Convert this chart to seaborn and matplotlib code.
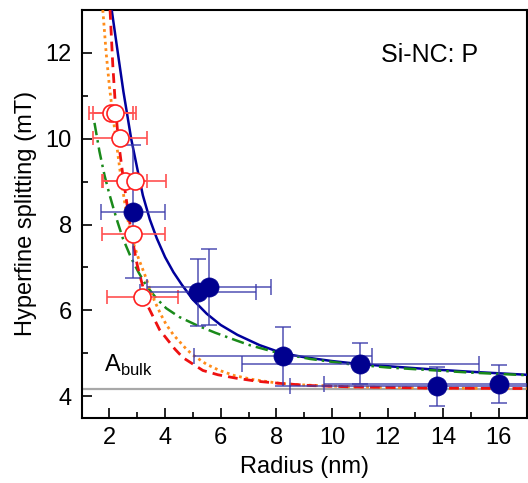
import numpy as np
import pandas as pd
import matplotlib
matplotlib.use("Agg")
import matplotlib.pyplot as plt
import seaborn as sns

# ---- data ----
A_bulk = 4.17

# open red circles (radius nm, splitting mT, x-error)
red_r = [2.06, 2.18, 2.38, 2.54, 2.90, 2.86, 3.18]
red_a = [10.60, 10.60, 10.02, 9.01, 9.01, 7.77, 6.32]
red_xerr = [0.80, 0.76, 0.98, 0.80, 1.14, 1.14, 1.27]

# filled blue circles
blue_r = [2.84, 5.18, 5.57, 8.23, 11.02, 13.79, 16.00]
blue_a = [8.30, 6.42, 6.55, 4.93, 4.76, 4.23, 4.29]
blue_xerr = [1.15, 2.10, 2.23, 3.20, 4.26, 5.30, 6.27]
blue_yerr = [1.55, 0.78, 0.88, 0.68, 0.47, 0.46, 0.44]

# model curves, points
blue_curve_r = [2.08, 2.30, 2.50, 2.78, 3.00, 3.20, 3.45, 3.70, 4.00, 4.30,
                4.60, 5.00, 5.50, 6.00, 6.60, 7.40, 8.23, 9.00, 10.0, 11.0,
                12.0, 13.5, 15.0, 17.0]
blue_curve_a = [13.0, 12.0, 11.1, 10.0, 9.3, 8.68, 8.12, 7.68, 7.24, 6.89,
                6.6, 6.25, 5.92, 5.66, 5.43, 5.19, 5.0, 4.91, 4.82, 4.75,
                4.70, 4.63, 4.57, 4.50]

green_curve_r = [1.46, 1.64, 1.82, 2.00, 2.15, 2.30, 2.48, 2.78, 3.05, 3.32,
                 3.70, 4.04, 4.50, 5.12, 5.80, 6.56, 7.04, 8.00, 9.20, 10.6,
                 12.0, 13.5, 15.0, 17.0]
green_curve_a = [10.37, 9.7, 9.15, 8.7, 8.36, 8.04, 7.68, 7.22, 6.88, 6.58,
                 6.27, 6.05, 5.85, 5.66, 5.48, 5.3, 5.19, 5.02, 4.87, 4.75,
                 4.67, 4.61, 4.55, 4.49]

red_curve_r = [2.02, 2.12, 2.22, 2.32, 2.48, 2.69, 2.85, 3.00, 3.14, 3.38,
               3.80, 4.35, 4.64, 5.36, 5.90, 6.56, 7.30, 8.12, 9.20, 10.6,
               13.5, 17.0]
red_curve_a = [13.0, 11.7, 10.7, 9.95, 9.15, 8.2, 7.55, 7.05, 6.7, 6.1,
               5.55, 5.1, 4.9, 4.6, 4.5, 4.42, 4.35, 4.3, 4.25, 4.22,
               4.19, 4.18]

orange_curve_r = [1.76, 1.88, 2.00, 2.12, 2.25, 2.40, 2.55, 2.70, 2.84, 3.05,
                  3.26, 3.45, 3.62, 3.85, 4.04, 4.30, 4.76, 5.00, 5.50, 5.96,
                  6.50, 7.16, 8.00, 8.72, 10.6, 13.5, 17.0]
orange_curve_a = [13.0, 12.0, 11.2, 10.55, 9.9, 9.15, 8.5, 7.98, 7.6, 7.2,
                  6.85, 6.5, 6.22, 5.9, 5.67, 5.43, 5.1, 4.96, 4.74, 4.6,
                  4.48, 4.39, 4.31, 4.27, 4.22, 4.19, 4.18]

x_ticks = [2, 4, 6, 8, 10, 12, 14, 16]
y_ticks = [4, 6, 8, 10, 12]

# ---- plotting ----
sns.set_theme(style="ticks")
plt.rcParams['font.family'] = ['Liberation Sans', 'DejaVu Sans']
plt.rcParams['mathtext.fontset'] = 'custom'
plt.rcParams['mathtext.rm'] = 'Liberation Sans'
plt.rcParams['text.color'] = 'black'
plt.rcParams['axes.labelcolor'] = 'black'

fig = plt.figure(figsize=(5.28, 4.83), dpi=100)
ax = fig.add_axes([0.1547, 0.1352, 0.8428, 0.8441])

ax.axhline(A_bulk, color='#a8a8a8', lw=1.6, zorder=1)

curves = [
    (blue_curve_r, blue_curve_a, '#00009c', '-', 1.8),
    (green_curve_r, green_curve_a, '#1a8a1a', (0, (5, 2, 1, 2)), 1.8),
    (orange_curve_r, orange_curve_a, '#ff8c1a', (0, (1, 1.3)), 2.0),
    (red_curve_r, red_curve_a, '#ee1111', (0, (3.5, 2.2)), 2.0),
]
for r, a, c, ls, lw in curves:
    df = pd.DataFrame({'r': r, 'a': a})
    sns.lineplot(data=df, x='r', y='a', color=c, lw=lw, ax=ax, sort=False,
                 estimator=None, zorder=3)
    ln = ax.lines[-1]
    ln.set_linestyle(ls)
    ln.set_solid_joinstyle('round')

# red open circles
ax.errorbar(red_r, red_a, xerr=red_xerr, fmt='none', ecolor='#ff5050',
            elinewidth=1.2, capsize=5, capthick=1.2, zorder=4)
sns.scatterplot(x=red_r, y=red_a, ax=ax, s=150, facecolor='white',
                edgecolor='#ff2020', linewidth=1.2, zorder=5)

# blue filled circles
ax.errorbar(blue_r, blue_a, xerr=blue_xerr, yerr=blue_yerr, fmt='none',
            ecolor='#3a3aaa', alpha=0.75, elinewidth=1.3, capsize=6,
            capthick=1.3, zorder=4)
sns.scatterplot(x=blue_r, y=blue_a, ax=ax, s=190, color='#00008f',
                edgecolor='#00008f', linewidth=0.5, zorder=6)

ax.set_xlim(1, 17)
ax.set_ylim(3.5, 13)
ax.set_xticks(x_ticks)
ax.set_yticks(y_ticks)
ax.set_xticks(np.arange(1, 17, 1), minor=True)
ax.set_yticks(np.arange(5, 13, 2), minor=True)
ax.tick_params(which='major', direction='in', length=7, width=1.2,
               labelsize=17, colors='black', labelcolor='black', pad=7)
ax.tick_params(which='minor', direction='in', length=4, width=1.2,
               colors='black')
for s in ax.spines.values():
    s.set_linewidth(1.5)
    s.set_color('black')

ax.set_xlabel('Radius (nm)', fontsize=17, labelpad=5, color='black')
ax.set_ylabel('Hyperfine splitting (mT)', fontsize=17, labelpad=6,
              color='black')

ax.text(13.5, 11.95, 'Si-NC: P', fontsize=18, ha='center', va='center',
        color='black')
ax.text(1.82, 4.72, r'A$_{\mathregular{bulk}}$', fontsize=17, ha='left',
        va='center', color='black')

fig.savefig('out.png', dpi=100)
